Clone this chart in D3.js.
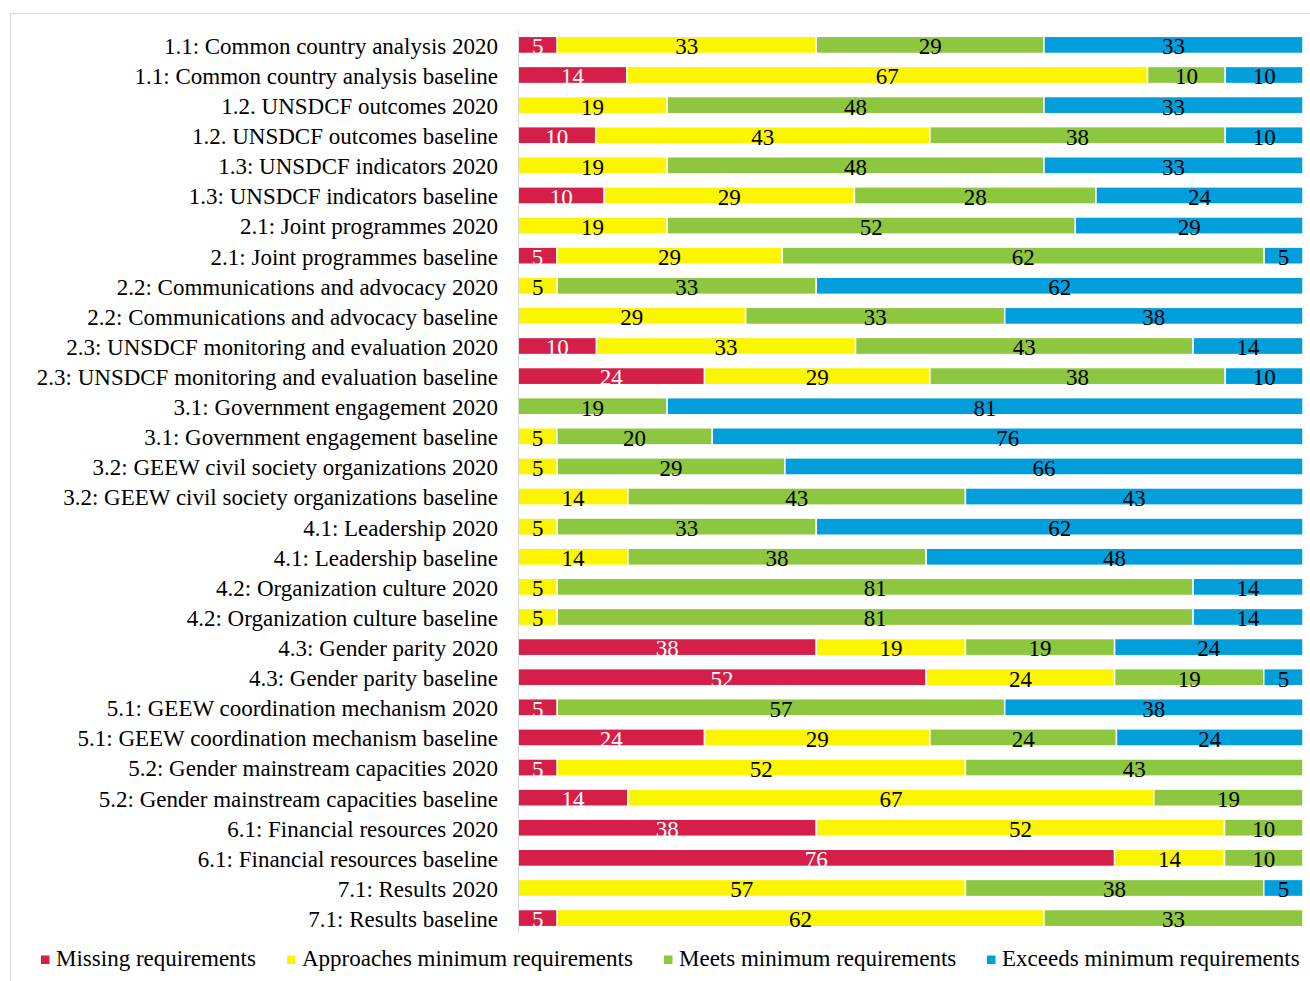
<!DOCTYPE html>
<html>
<head>
<meta charset="utf-8">
<script src="https://cdn.jsdelivr.net/npm/d3@7"></script>
<style>
  html, body { margin: 0; padding: 0; background: #fff; }
  svg { display: block; }
  text { font-family: "Liberation Serif", "Times New Roman", serif; }
</style>
</head>
<body>
<svg id="chart" width="1310" height="981"></svg>
<script>
// Assessment rows, top to bottom
const categories = [
  "1.1: Common country analysis 2020",
  "1.1: Common country analysis baseline",
  "1.2. UNSDCF outcomes 2020",
  "1.2. UNSDCF outcomes baseline",
  "1.3: UNSDCF indicators 2020",
  "1.3: UNSDCF indicators baseline",
  "2.1: Joint programmes 2020",
  "2.1: Joint programmes baseline",
  "2.2: Communications and advocacy 2020",
  "2.2: Communications and advocacy baseline",
  "2.3: UNSDCF monitoring and evaluation 2020",
  "2.3: UNSDCF monitoring and evaluation baseline",
  "3.1: Government engagement 2020",
  "3.1: Government engagement baseline",
  "3.2: GEEW civil society organizations 2020",
  "3.2: GEEW civil society organizations baseline",
  "4.1: Leadership 2020",
  "4.1: Leadership baseline",
  "4.2: Organization culture 2020",
  "4.2: Organization culture baseline",
  "4.3: Gender parity 2020",
  "4.3: Gender parity baseline",
  "5.1: GEEW coordination mechanism 2020",
  "5.1: GEEW coordination mechanism baseline",
  "5.2: Gender mainstream capacities 2020",
  "5.2: Gender mainstream capacities baseline",
  "6.1: Financial resources 2020",
  "6.1: Financial resources baseline",
  "7.1: Results 2020",
  "7.1: Results baseline"
];

// Percent of UNCTs per rating, one array per rating
const missing     = [5, 14, 0, 10, 0, 10, 0, 5, 0, 0, 10, 24, 0, 0, 0, 0, 0, 0, 0, 0, 38, 52, 5, 24, 5, 14, 38, 76, 0, 5];
const approaches  = [33, 67, 19, 43, 19, 29, 19, 29, 5, 29, 33, 29, 0, 5, 5, 14, 5, 14, 5, 5, 19, 24, 0, 29, 52, 67, 52, 14, 57, 62];
const meets       = [29, 10, 48, 38, 48, 28, 52, 62, 33, 33, 43, 38, 19, 20, 29, 43, 33, 38, 81, 81, 19, 19, 57, 24, 43, 19, 10, 10, 38, 33];
const exceeds     = [33, 10, 33, 10, 33, 24, 29, 5, 62, 38, 14, 10, 81, 76, 66, 43, 62, 48, 14, 14, 24, 5, 38, 24, 0, 0, 0, 0, 5, 0];

const seriesNames = [
  "Missing requirements",
  "Approaches minimum requirements",
  "Meets minimum requirements",
  "Exceeds minimum requirements"
];
const seriesColors = ["#D51F48", "#FCF500", "#8DC63F", "#009EDB"];
const labelColors = ["#ffffff", "#000000", "#000000", "#000000"];

const table = categories.map((c, i) => ({
  category: c,
  s0: missing[i], s1: approaches[i], s2: meets[i], s3: exceeds[i]
}));
const keys = ["s0", "s1", "s2", "s3"];

const fontSize = 23;
const svg = d3.select("#chart");

// Outer chart frame
svg.append("rect")
  .attr("x", 10.5).attr("y", 13.5)
  .attr("width", 1320).attr("height", 1000)
  .attr("fill", "none").attr("stroke", "#d9d9d9").attr("stroke-width", 1);

const plot = { left: 518, right: 1303, top: 30, bottom: 933 };

const y = d3.scaleBand()
  .domain(categories)
  .range([plot.top, plot.bottom])
  .paddingInner(0.43)
  .paddingOuter(0.21);

const x = d3.scaleLinear().domain([0, 1]).range([plot.left, plot.right]);

// 100% stacking: each row is normalised by its own total
const stack = d3.stack().keys(keys).offset(d3.stackOffsetExpand);
const layers = stack(table);

const layerG = svg.append("g").selectAll("g")
  .data(layers)
  .join("g")
  .attr("fill", (d, i) => seriesColors[i]);

layerG.selectAll("rect")
  .data(d => d.filter(p => p.data[d.key] > 0))
  .join("rect")
  .attr("x", p => x(p[0]))
  .attr("y", p => y(p.data.category))
  .attr("width", p => x(p[1]) - x(p[0]))
  .attr("height", y.bandwidth())
  .attr("stroke", "#fff")
  .attr("stroke-width", 1.5);

// Value labels centred in each segment
layers.forEach((layer, li) => {
  svg.append("g").selectAll("text")
    .data(layer.filter(p => p.data[layer.key] > 0))
    .join("text")
    .attr("x", p => (x(p[0]) + x(p[1])) / 2)
    .attr("y", p => y(p.data.category) + y.bandwidth() + 0.8)
    .attr("text-anchor", "middle")
    .attr("font-size", fontSize)
    .attr("fill", labelColors[li])
    .text(p => p.data[layer.key]);
});

// Category axis
const yAxis = d3.axisLeft(y).tickSize(0).tickPadding(20);
const axisG = svg.append("g")
  .attr("transform", `translate(${plot.left},0)`)
  .call(yAxis);
axisG.select(".domain").attr("stroke", "#d9d9d9").attr("d", `M0.5,${plot.top}V${plot.bottom}`);
axisG.selectAll(".tick text")
  .attr("font-size", fontSize)
  .attr("fill", "#000")
  .attr("dy", null)
  .attr("y", y.bandwidth() / 2 + 0.3);

// Legend
const legendX = [41, 287, 664, 987];
const legend = svg.append("g").selectAll("g")
  .data(seriesNames)
  .join("g")
  .attr("transform", (d, i) => `translate(${legendX[i]},955.5)`);
legend.append("rect")
  .attr("width", 8.5).attr("height", 8.5)
  .attr("fill", (d, i) => seriesColors[i]);
legend.append("text")
  .attr("x", 15).attr("y", 10.5)
  .attr("font-size", fontSize)
  .attr("fill", "#000")
  .text(d => d);
</script>
</body>
</html>
